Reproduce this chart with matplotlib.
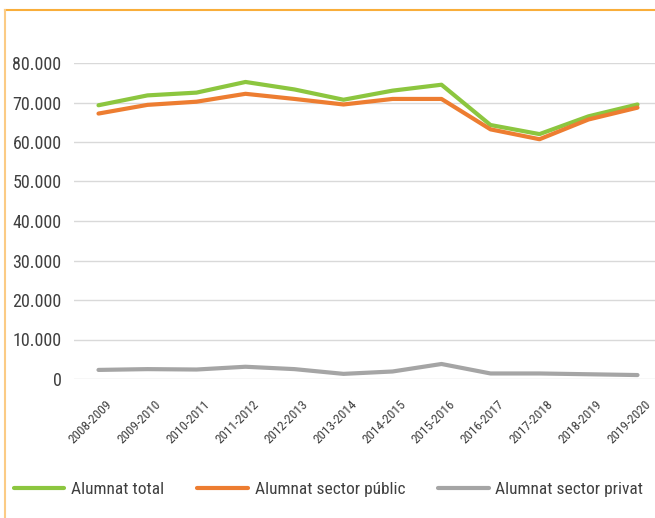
import matplotlib
matplotlib.use('Agg')
import matplotlib.pyplot as plt
from matplotlib import font_manager
from matplotlib.lines import Line2D
from matplotlib.ticker import FuncFormatter
from matplotlib.transforms import ScaledTranslation

cursos = ['2008-2009', '2009-2010', '2010-2011', '2011-2012', '2012-2013', '2013-2014',
          '2014-2015', '2015-2016', '2016-2017', '2017-2018', '2018-2019', '2019-2020']
total = [69300, 71800, 72500, 75200, 73300, 70700, 73000, 74500, 64300, 62000, 66500, 69500]
public = [67200, 69400, 70200, 72200, 70900, 69500, 70900, 70900, 63200, 60700, 65700, 68700]
privat = [2300, 2500, 2400, 3100, 2500, 1300, 1900, 3800, 1400, 1400, 1200, 1000]
y_ticks = [0, 10000, 20000, 30000, 40000, 50000, 60000, 70000, 80000]

# condensed font if there is one
font = 'DejaVu Sans'
for name in ['Liberation Sans Narrow', 'Roboto Condensed', 'Roboto', 'Liberation Sans']:
    try:
        font_manager.findfont(name, fallback_to_default=False)
        font = name
        break
    except Exception:
        pass
plt.rcParams['font.family'] = [font, 'DejaVu Sans']

text_col = '#404040'
fig = plt.figure(figsize=(6.55, 5.18), dpi=100)
ax = fig.add_axes([74 / 655, 1 - 379 / 518, 588 / 655, 316 / 518])

x = list(range(len(cursos)))
ax.plot(x, total, color='#8CC63F', lw=3, solid_capstyle='round', label='Alumnat total')
ax.plot(x, public, color='#ED7D31', lw=3, solid_capstyle='round', label='Alumnat sector públic')
ax.plot(x, privat, color='#A5A5A5', lw=3, solid_capstyle='round', label='Alumnat sector privat')

ax.set_xlim(-0.5, len(cursos) - 0.5)
ax.set_ylim(0, 80000)
ax.set_yticks(y_ticks)
ax.yaxis.set_major_formatter(FuncFormatter(lambda v, p: f'{int(v):,}'.replace(',', '.')))
ax.grid(axis='y', color='#D9D9D9', lw=1)
ax.set_axisbelow(True)
for s in ax.spines.values():
    s.set_visible(False)
ax.tick_params(axis='y', length=0, pad=9, labelsize=13, labelcolor=text_col)
ax.set_xticks(x)
ax.set_xticklabels(cursos, rotation=45, ha='right', va='center', rotation_mode='anchor',
                   fontsize=9.5, color=text_col)
ax.tick_params(axis='x', length=0, pad=17)
shift = ScaledTranslation(12 / 100, 0, fig.dpi_scale_trans)
for lab in ax.get_xticklabels():
    lab.set_transform(lab.get_transform() + shift)

fig.legend(loc='center left', bbox_to_anchor=(14 / 655, 1 - 489 / 518), ncol=3, frameon=False,
           fontsize=12.5, handlelength=2.9, handletextpad=0.4, columnspacing=1.9,
           labelcolor=text_col, borderaxespad=0, borderpad=0)

# orange frame of the original box
fig.add_artist(Line2D([5 / 655, 1], [1 - 10 / 518, 1 - 10 / 518], color='#F9AE3A', lw=1.5))
fig.add_artist(Line2D([5 / 655, 5 / 655], [0, 1 - 10 / 518], color='#FBCB85', lw=1.5))

fig.savefig('out.png', dpi=100)
